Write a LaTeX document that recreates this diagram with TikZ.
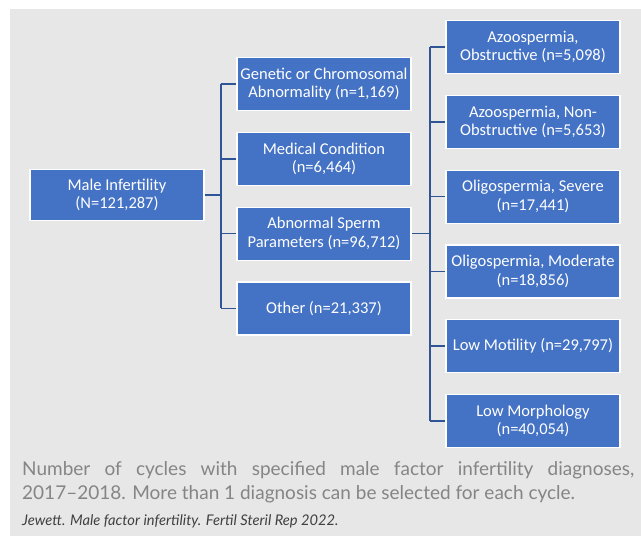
\documentclass[tikz,border=0pt]{standalone}
\usepackage{fontspec}
\setmainfont{Carlito}
\newfontfamily\captionfont[Ligatures=TeX]{Lato}
\begin{document}
\begin{tikzpicture}[x=1pt, y=1pt,
    box/.style={fill=boxColour, draw=white, line width=1.2pt, minimum width=174pt,
        minimum height=53pt, inner sep=2pt, align=center, text=white,
        font=\fontsize{16.5}{18.5}\selectfont},
    link/.style={draw=lineColour, line width=1.6pt}]
    % Define colours
    \definecolor{boxColour}{HTML}{4472C4}
    \definecolor{lineColour}{HTML}{2F5597}
    \definecolor{backColour}{HTML}{E7E7E8}
    \definecolor{captionColour}{HTML}{858585}

    % Define spacing
    \def\rowStep{74.8}

    % Fix size and draw background
    \useasboundingbox (0,0) rectangle (641,-536);
    \fill[backColour] (10,-9) rectangle (641,-536);

    % Draw root
    \node[box, minimum height=51pt] (male) at (117,-195) {Male Infertility\\(N=121,287)};

    % Draw second level
    \node[box] (genetic) at (324,-84) {Genetic or Chromosomal\\Abnormality (n=1,169)};
    \node[box] (medical) at (324,-84-\rowStep) {Medical Condition\\(n=6,464)};
    \node[box] (sperm) at (324,-84-2*\rowStep) {Abnormal Sperm\\Parameters (n=96,712)};
    \node[box] (other) at (324,-84-3*\rowStep) {Other (n=21,337)};

    % Draw third level
    \node[box] (obstr) at (533,-47) {Azoospermia,\\Obstructive (n=5,098)};
    \node[box] (nonobstr) at (533,-47-\rowStep) {Azoospermia, Non-\\Obstructive (n=5,653)};
    \node[box] (severe) at (533,-47-2*\rowStep) {Oligospermia, Severe\\(n=17,441)};
    \node[box] (moderate) at (533,-47-3*\rowStep) {Oligospermia, Moderate\\(n=18,856)};
    \node[box] (motility) at (533,-47-4*\rowStep) {Low Motility (n=29,797)};
    \node[box] (morph) at (533,-47-5*\rowStep) {Low Morphology\\(n=40,054)};

    % Draw connectors from root
    \coordinate (split1) at (221,-195);
    \draw[link] (male.east) -- (split1);
    \draw[link] (split1 |- genetic.west) -- (split1 |- other.west);
    \foreach \n in {genetic,medical,sperm,other}
        \draw[link] (split1 |- \n.west) -- (\n.west);

    % Draw connectors from sperm parameters
    \coordinate (split2) at (430,-234);
    \draw[link] (sperm.east) -- (split2 |- sperm.east);
    \draw[link] (split2 |- obstr.west) -- (split2 |- morph.west);
    \foreach \n in {obstr,nonobstr,severe,moderate,motility,morph}
        \draw[link] (split2 |- \n.west) -- (\n.west);

    % Caption and source
    \node[anchor=north west, text width=612pt, align=justify, inner sep=0pt,
        text=captionColour, font=\captionfont\fontsize{19}{24.5}\selectfont] (caption) at (22,-461)
        {\parfillskip=0pt Number of cycles with specified male factor infertility diagnoses,\linebreak 2017--2018. More than 1 diagnosis can be selected for each cycle.};
    \node[anchor=north west, inner sep=0pt, text=black!75,
        font=\captionfont\fontsize{14.7}{17}\selectfont\itshape] (source) at (22,-514)
        {Jewett. Male factor infertility. Fertil Steril Rep 2022.};
\end{tikzpicture}
\end{document}
